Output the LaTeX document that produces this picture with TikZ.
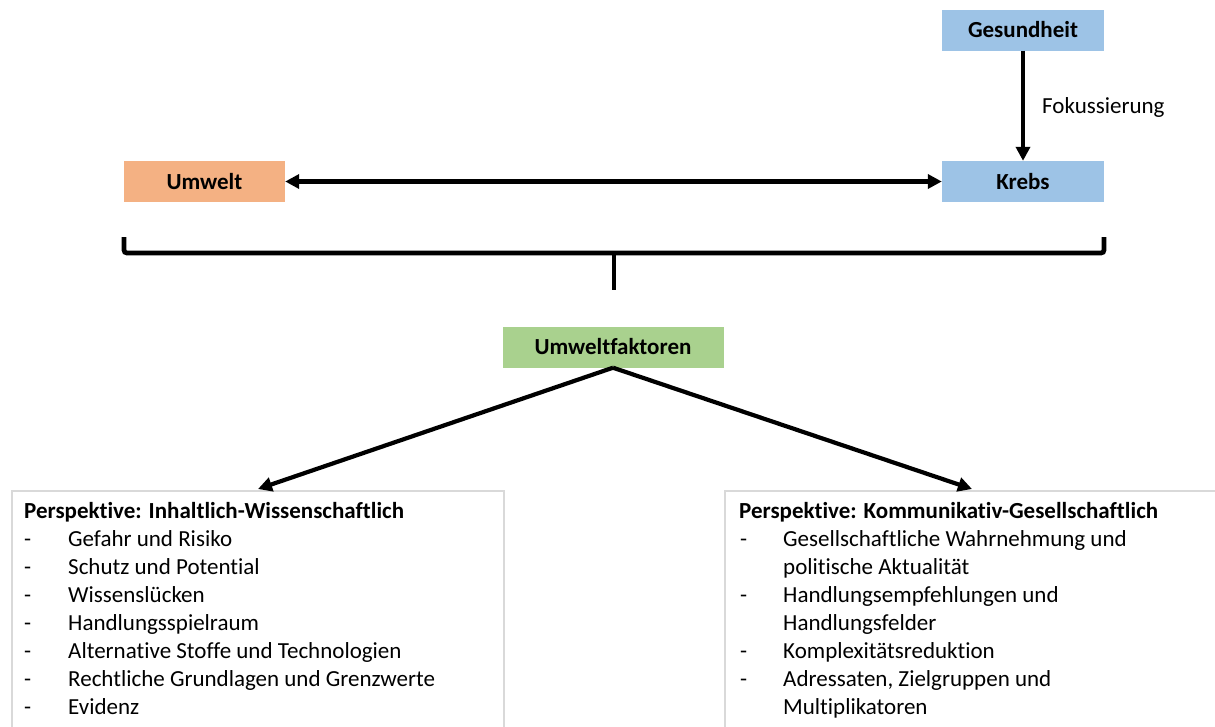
\documentclass[tikz,border=0pt]{standalone}
\usepackage{fontspec}
\setmainfont[Ligatures=NoCommon]{Carlito}
\usetikzlibrary{arrows.meta}
\definecolor{cblue}{HTML}{9DC3E6}
\definecolor{corange}{HTML}{F4B183}
\definecolor{cgreen}{HTML}{A9D18E}
\definecolor{cgray}{HTML}{D9D9D9}
\begin{document}
\begin{tikzpicture}[x=1pt,y=-1pt,
  lbl/.style={inner sep=0pt, font=\fontsize{23}{28}\selectfont\bfseries, minimum height=41pt},
  box/.style={lbl, minimum width=162pt},
  txt/.style={anchor=base west, inner sep=0pt, font=\fontsize{23}{28}\selectfont},
  hd/.style={txt, font=\fontsize{23}{28}\selectfont\bfseries},
  pbox/.style={draw=cgray, line width=1.5pt, inner sep=0pt, minimum height=300pt},
  arr/.style={line width=4.2pt, -{Triangle[length=14pt,width=14pt]}},
  darr/.style={line width=4.2pt, {Triangle[length=14pt,width=14pt]}-{Triangle[length=14pt,width=14pt]}},
  brace/.style={line width=4.8pt, rounded corners=3pt}
]
\useasboundingbox (0,0) rectangle (1215,726);
\clip (0,0) rectangle (1215,726);

% colored boxes
\node[box, fill=cblue] (ges) at (1023,30) {Gesundheit};
\node[box, fill=cblue] (krebs) at (1023,181.5) {Krebs};
\node[box, fill=corange, minimum width=161pt] (umw) at (204.5,181.5) {Umwelt};
\node[lbl, fill=cgreen, minimum width=221pt] (uf) at (613,347) {Umweltfaktoren};

% connectors
\draw[arr] (ges) -- (krebs);
\node[txt] (fok) at (1042,113) {Fokussierung};
\draw[darr] (umw) -- (krebs);

% brace
\draw[brace] (124,237) -- (124,253) -- (1104,253) -- (1104,237);
\draw[line width=4.8pt] (614,252) -- (614,290);

% perspective boxes
\node[pbox, minimum width=492pt, anchor=north west] (lbox) at (11,490) {};
\node[pbox, minimum width=540pt, anchor=north west] (rbox) at (724,490) {};
\coordinate (lt) at (258,489);
\coordinate (rt) at (972,489);
\draw[arr] (uf.south) -- (lt);
\draw[arr] (uf.south) -- (rt);

% left texts
\node[hd] (l0) at (24,518.5) {Perspektive: Inhaltlich-Wissenschaftlich};
\foreach \i/\t in {1/Gefahr und Risiko,2/Schutz und Potential,3/Wissenslücken,4/Handlungsspielraum,5/Alternative Stoffe und Technologien,6/Rechtliche Grundlagen und Grenzwerte,7/Evidenz}{
  \node[txt] (ld\i) at (24,518.5+28*\i) {-};
  \node[txt] (l\i) at (68,518.5+28*\i) {\t};
}

% right texts
\node[hd] (r0) at (739,518.5) {Perspektive: Kommunikativ-Gesellschaftlich};
\foreach \i in {1,3,5,6}{
  \node[txt] (rd\i) at (740,518.5+28*\i) {-};
}
\node[txt] (r1) at (783,546.5) {Gesellschaftliche Wahrnehmung und};
\node[txt] (r2) at (783,574.5) {politische Aktualität};
\node[txt] (r3) at (783,602.5) {Handlungsempfehlungen und};
\node[txt] (r4) at (783,630.5) {Handlungsfelder};
\node[txt] (r5) at (783,658.5) {Komplexitätsreduktion};
\node[txt] (r6) at (783,686.5) {Adressaten, Zielgruppen und};
\node[txt] (r7) at (783,714.5) {Multiplikatoren};
\end{tikzpicture}
\end{document}
